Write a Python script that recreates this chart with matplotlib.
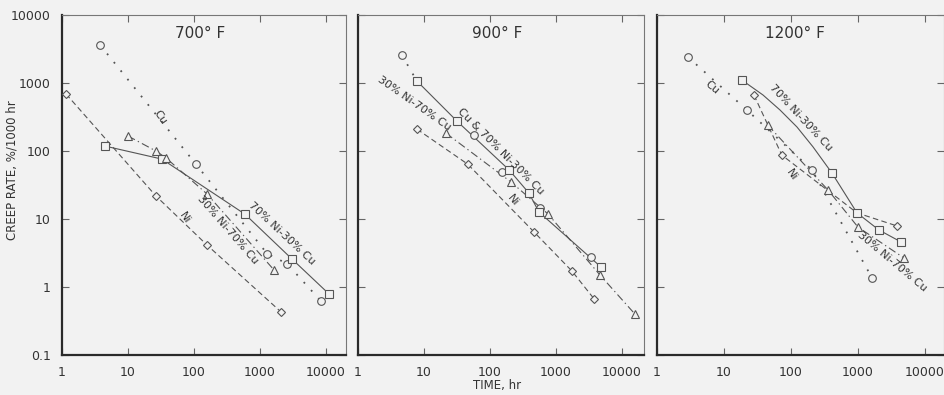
import numpy as np
import matplotlib
matplotlib.use("Agg")
import matplotlib.pyplot as plt

BG = "#f2f2f2"
LC = "#555555"
TC = "#333333"

# ---------------- data ----------------
time_ticks = [1, 10, 100, 1000, 10000]
time_tick_labels = ["1", "10", "100", "1000", "10000"]
rate_ticks = [0.1, 1, 10, 100, 1000, 10000]
rate_tick_labels = ["0.1", "1", "10", "100", "1000", "10000"]

# 700 F
cu700_t = [3.8, 107, 1280, 2570, 8400]
cu700_r = [3600, 64, 3.1, 2.2, 0.62]
ni700_t = [1.15, 26.5, 157, 2080]
ni700_r = [690, 21.8, 4.15, 0.43]
n70_700_t = [4.5, 32.7, 590, 3050, 11100]
n70_700_r = [118, 76, 11.8, 2.58, 0.79]
n30_700_t = [10, 26.5, 37.7, 157, 1630]
n30_700_r = [166, 100, 79, 23.4, 1.78]

# 900 F
cu900_t = [4.6, 57, 152, 575, 3390]
cu900_r = [2590, 172, 49, 14.5, 2.76]
cu900_line_t = [4.6, 7.8]
cu900_line_r = [2590, 1070]
n70_900_t = [7.8, 31.6, 195, 390, 550, 4800]
n70_900_r = [1070, 275, 52.6, 24, 12.7, 1.97]
n30_900_t = [21.5, 208, 760, 4640, 15700]
n30_900_r = [183, 35, 11.8, 1.5, 0.40]
ni900_t = [7.8, 46, 464, 1740, 3770]
ni900_r = [210, 64, 6.45, 1.72, 0.67]

# 1200 F
cu1200_t = [2.9, 22, 206, 1620]
cu1200_r = [2410, 400, 52.6, 1.36]
n70_1200_t = [18.6, 408, 966, 2050, 4380]
n70_1200_r = [1100, 47.5, 12.3, 6.9, 4.6]
n70_1200_line_t = [18.6, 38.2, 68.5, 123, 213, 408, 966, 2050, 4380]
n70_1200_line_r = [1100, 666, 401, 225, 115, 47.5, 12.3, 6.9, 4.6]
ni1200_t = [28, 73, 3820]
ni1200_r = [665, 87, 7.9]
ni1200_line_t = [28, 73, 966, 3820]
ni1200_line_r = [665, 87, 12.3, 7.9]
n30_1200_t = [45, 356, 1000, 4860]
n30_1200_r = [240, 26.8, 7.6, 2.67]

# ---------------- styles ----------------
LS_CU = (0, (1, 5))
LS_NI = (0, (5, 3))
LS_30 = (0, (7, 3, 1.2, 3))
LS_70 = "-"

plt.rcParams["font.family"] = ["DejaVu Sans"]

fig = plt.figure(figsize=(9.44, 3.95), dpi=100, facecolor=BG)

lefts = [62 / 944, 358 / 944, 657 / 944]
widths = [284 / 944, 286 / 944, 287 / 944]
xmaxs = [10 ** (284 / 66), 10 ** (286 / 66), 10 ** (287 / 67)]
bottom = 40 / 395
height = 340 / 395


def line(ax, t, r, ls):
    lw = 1.3 if ls == LS_CU else 0.8
    ax.plot(t, r, ls=ls, color=LC, lw=lw, zorder=2)


def marks(ax, t, r, m, ms):
    ax.plot(t, r, ls="none", marker=m, ms=ms, mfc=BG, mec=LC, mew=0.8, zorder=3)


def label(ax, x, y, s, rot):
    ax.text(x, y, s, rotation=rot, rotation_mode="anchor", ha="center", va="center",
            fontsize=8, color=TC, zorder=4)


axes = []
for i in range(3):
    ax = fig.add_axes([lefts[i], bottom, widths[i], height])
    ax.set_facecolor(BG)
    ax.set_xscale("log")
    ax.set_yscale("log")
    ax.set_xlim(1, xmaxs[i])
    ax.set_ylim(0.1, 10000)
    ax.set_xticks(time_ticks)
    ax.set_xticklabels(time_tick_labels)
    ax.set_yticks(rate_ticks)
    ax.set_yticklabels(rate_tick_labels if i == 0 else [])
    ax.minorticks_off()
    ax.tick_params(which="both", direction="in", top=True, right=True, length=5,
                   width=0.8, color="#666666", labelsize=9, labelcolor=TC, pad=8)
    for s in ["left", "bottom"]:
        ax.spines[s].set_linewidth(1.6)
        ax.spines[s].set_color("#2a2a2a")
    for s in ["top", "right"]:
        ax.spines[s].set_linewidth(0.8)
        ax.spines[s].set_color("#777777")
    axes.append(ax)

titles = ["700° F", "900° F", "1200° F"]
for ax, t, fx in zip(axes, titles, [0.486, 0.486, 0.48]):
    ax.text(fx, 0.947, t, transform=ax.transAxes, ha="center", va="center",
            fontsize=11, color=TC)

# 700 F
ax = axes[0]
line(ax, cu700_t, cu700_r, LS_CU); marks(ax, cu700_t, cu700_r, "o", 5.5)
line(ax, ni700_t, ni700_r, LS_NI); marks(ax, ni700_t, ni700_r, "D", 4)
line(ax, n70_700_t, n70_700_r, LS_70); marks(ax, n70_700_t, n70_700_r, "s", 5.5)
line(ax, n30_700_t, n30_700_r, LS_30); marks(ax, n30_700_t, n30_700_r, "^", 6)
label(ax, 30.5, 316, "Cu", -55)
label(ax, 2150, 6.2, "70% Ni-30% Cu", -43)
label(ax, 327, 6.9, "30% Ni-70% Cu", -49)
label(ax, 73, 10.3, "Ni", -55)

# 900 F
ax = axes[1]
line(ax, cu900_line_t, cu900_line_r, LS_CU); marks(ax, cu900_t, cu900_r, "o", 5.5)
line(ax, n70_900_t, n70_900_r, LS_70); marks(ax, n70_900_t, n70_900_r, "s", 5.5)
line(ax, n30_900_t, n30_900_r, LS_30); marks(ax, n30_900_t, n30_900_r, "^", 6)
line(ax, ni900_t, ni900_r, LS_NI); marks(ax, ni900_t, ni900_r, "D", 4)
label(ax, 7.05, 508, "30% Ni-70% Cu", -35)
label(ax, 147, 100, "Cu & 70% Ni-30% Cu", -45)
label(ax, 224, 19, "Ni", -50)

# 1200 F
ax = axes[2]
line(ax, cu1200_t, cu1200_r, LS_CU); marks(ax, cu1200_t, cu1200_r, "o", 5.5)
line(ax, n70_1200_line_t, n70_1200_line_r, LS_70); marks(ax, n70_1200_t, n70_1200_r, "s", 5.5)
line(ax, ni1200_line_t, ni1200_line_r, LS_NI); marks(ax, ni1200_t, ni1200_r, "D", 4)
line(ax, n30_1200_t, n30_1200_r, LS_30); marks(ax, n30_1200_t, n30_1200_r, "^", 6)
label(ax, 6.6, 850, "Cu", -40)
label(ax, 141, 305, "70% Ni-30% Cu", -47)
label(ax, 103, 44, "Ni", -55)
label(ax, 3210, 2.33, "30% Ni-70% Cu", -40)

fig.text(12 / 944, 1 - 170 / 395, "CREEP RATE, %/1000 hr", rotation=90,
         ha="center", va="center", fontsize=8.5, color=TC)
fig.text(497 / 944, 1 - 386 / 395, "TIME, hr", ha="center", va="center",
         fontsize=8.5, color=TC)

fig.savefig("out.png", dpi=100, facecolor=BG)
